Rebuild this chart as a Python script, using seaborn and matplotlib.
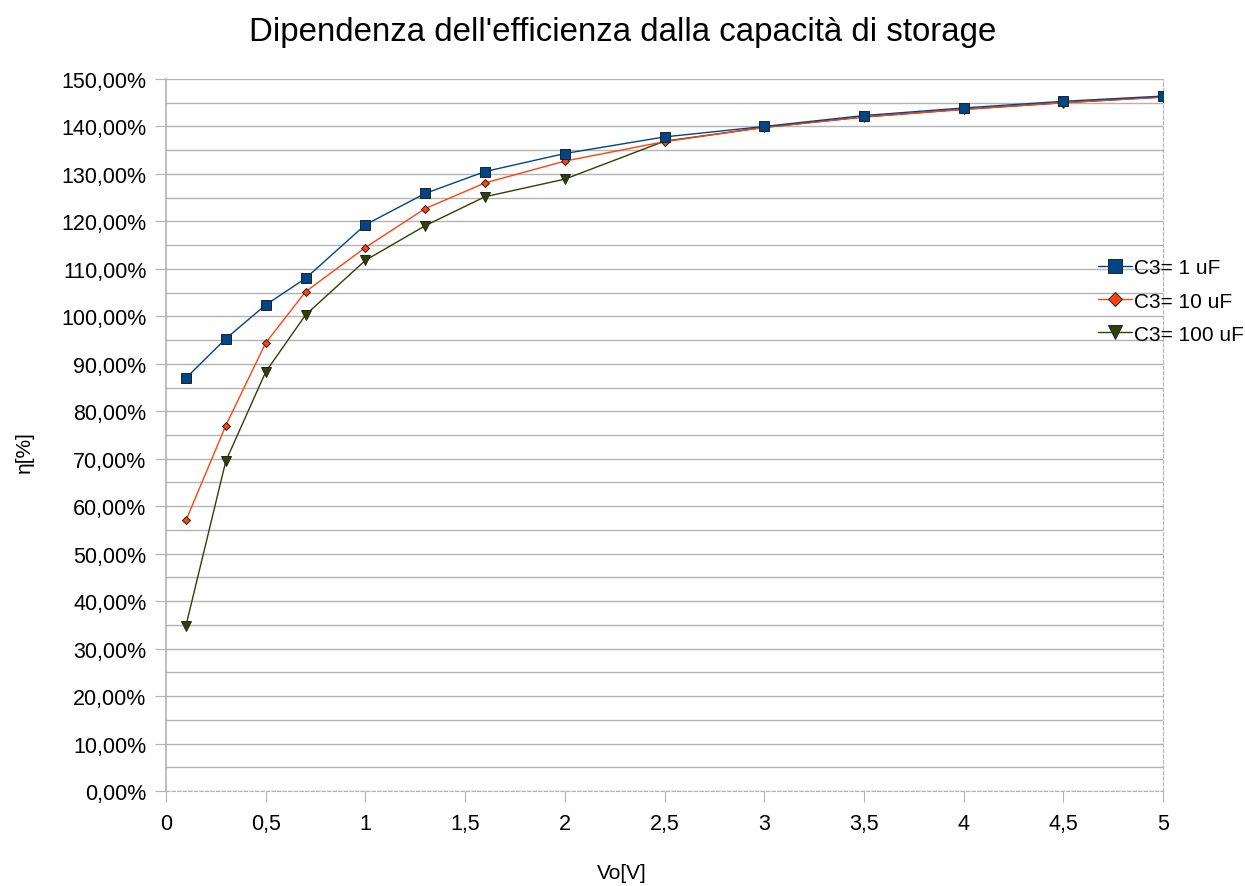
import matplotlib
matplotlib.use("Agg")
import matplotlib.pyplot as plt
import seaborn as sns
import pandas as pd
from matplotlib.ticker import MultipleLocator, FuncFormatter
from matplotlib.lines import Line2D

vo = [0.1, 0.3, 0.5, 0.7, 1.0, 1.3, 1.6, 2.0, 2.5, 3.0, 3.5, 4.0, 4.5, 5.0]
eta_1uF = [87.0, 95.3, 102.4, 108.0, 119.3, 125.9, 130.5, 134.3, 137.8, 140.0, 142.3, 143.9, 145.3, 146.4]
eta_10uF = [57.0, 77.0, 94.4, 105.2, 114.5, 122.7, 128.1, 132.7, 136.8, 139.8, 142.0, 143.6, 145.0, 146.2]
eta_100uF = [34.8, 69.5, 88.3, 100.3, 111.8, 119.1, 125.2, 128.9, 136.9, 139.8, 142.0, 143.6, 145.0, 146.2]
series_names = ["C3= 1 uF", "C3= 10 uF", "C3= 100 uF"]
colors = ["#004586", "#ff420e", "#314004"]
markers = ["s", "D", "v"]
msizes = [6.5, 4.5, 6.5]
zorders = [5, 4, 3]

sns.set_style("white")
plt.rcParams["font.family"] = ["Liberation Sans", "DejaVu Sans"]
plt.rcParams["text.color"] = "black"
plt.rcParams["axes.labelcolor"] = "black"

fig = plt.figure(figsize=(12.45, 8.87), dpi=100)
ax = fig.add_axes([166/1245, 1-792/887, (1163-166)/1245, (792-80)/887])

handles = []
for name, vals, c, m, ms, z in zip(series_names, [eta_1uF, eta_10uF, eta_100uF], colors, markers, msizes, zorders):
    df = pd.DataFrame({"Vo": vo, "eta": vals})
    sns.lineplot(data=df, x="Vo", y="eta", ax=ax, color=c, marker=m, markersize=ms,
                 markeredgecolor="#222222", markeredgewidth=0.7, linewidth=1.0, zorder=z)
    handles.append(Line2D([0], [0], color=c, marker=m, markersize=ms + 3,
                          markeredgecolor="#222222", markeredgewidth=0.7, linewidth=1.0))

ax.set_xlim(0, 5)
ax.set_ylim(0, 150)
ax.xaxis.set_major_locator(MultipleLocator(0.5))
ax.yaxis.set_major_locator(MultipleLocator(10))
ax.yaxis.set_minor_locator(MultipleLocator(5))
ax.xaxis.set_major_formatter(FuncFormatter(lambda v, p: ("%g" % v).replace(".", ",")))
ax.yaxis.set_major_formatter(FuncFormatter(lambda v, p: ("%.2f%%" % v).replace(".", ",")))

ax.grid(True, which="both", axis="y", color="#b3b3b3", linewidth=1.0)
ax.grid(False, axis="x")
ax.tick_params(axis="both", which="both", direction="out", color="#b3b3b3", labelsize=15.5, labelcolor="#000000")
ax.tick_params(axis="y", which="major", length=8, pad=6)
ax.tick_params(axis="y", which="minor", length=8)
ax.tick_params(axis="x", which="major", length=8, pad=8)
ax.tick_params(left=True, bottom=True)

ax.spines["top"].set_visible(False)
ax.spines["left"].set_color("#b3b3b3")
ax.spines["left"].set_linewidth(1.2)
ax.spines["bottom"].set_color("#b3b3b3")
ax.spines["bottom"].set_linestyle((0, (3, 2)))
ax.spines["right"].set_color("#b3b3b3")
ax.spines["right"].set_linestyle((0, (3, 2)))

ax.set_xlabel("Vo[V]", fontsize=15, va="center")
ax.xaxis.set_label_coords((622-166)/997, (792-874)/712)
ax.set_ylabel("η[%]", fontsize=15, va="center")
ax.yaxis.set_label_coords((24-166)/997, (792-452)/712)
fig.suptitle("Dipendenza dell'efficienza dalla capacità di storage", fontsize=23.8, y=1-32/887, va="center")

leg = fig.legend(handles, series_names, loc="upper left", bbox_to_anchor=(1088/1245, 1-249/887),
                 frameon=False, fontsize=15, handlelength=1.6, handletextpad=0.1, labelspacing=0.68, borderpad=0)

fig.savefig("out.png", dpi=100)
